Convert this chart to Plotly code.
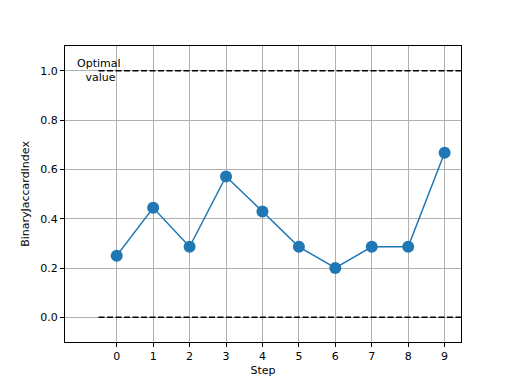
import plotly.graph_objects as go

steps = [0, 1, 2, 3, 4, 5, 6, 7, 8, 9]
values = [0.25, 0.444, 0.286, 0.571, 0.429, 0.286, 0.2, 0.286, 0.286, 0.667]
ref_x = [-0.5, 9.5]
optimal = [1.0, 1.0]
baseline = [0.0, 0.0]
y_ticks = [0.0, 0.2, 0.4, 0.6, 0.8, 1.0]

fig = go.Figure()
fig.add_trace(go.Scatter(x=ref_x, y=optimal, mode="lines",
                         line=dict(color="black", dash="6px,2.5px", width=1.5), showlegend=False))
fig.add_trace(go.Scatter(x=ref_x, y=baseline, mode="lines",
                         line=dict(color="black", dash="6px,2.5px", width=1.5), showlegend=False))
fig.add_trace(go.Scatter(x=steps, y=values, mode="lines+markers",
                         line=dict(color="#1f77b4", width=1.5),
                         marker=dict(color="#1f77b4", size=12), showlegend=False))
fig.add_annotation(x=-0.5, y=1.0, text="Optimal<br> value", showarrow=False,
                   font=dict(size=11, color="black"), align="center",
                   xanchor="center", yanchor="middle")

axis_common = dict(showline=True, linecolor="black", linewidth=1, mirror=True,
                   ticks="outside", ticklen=4, tickcolor="black",
                   showgrid=True, gridcolor="#b0b0b0", gridwidth=1, zeroline=False,
                   tickfont=dict(size=11, color="black"))
fig.update_xaxes(range=[-1.42, 9.45], tickvals=steps,
                 title=dict(text="Step", font=dict(size=11, color="black"), standoff=4),
                 **axis_common)
fig.update_yaxes(range=[-0.1, 1.1], tickvals=y_ticks, tickformat=".1f",
                 title=dict(text="BinaryJaccardIndex", font=dict(size=11, color="black"), standoff=8),
                 **axis_common)
fig.update_layout(width=512, height=384, margin=dict(l=57, r=59, t=38, b=50),
                  plot_bgcolor="white", paper_bgcolor="white",
                  font=dict(family="DejaVu Sans", size=11, color="black"))
fig.write_html("out.html")
